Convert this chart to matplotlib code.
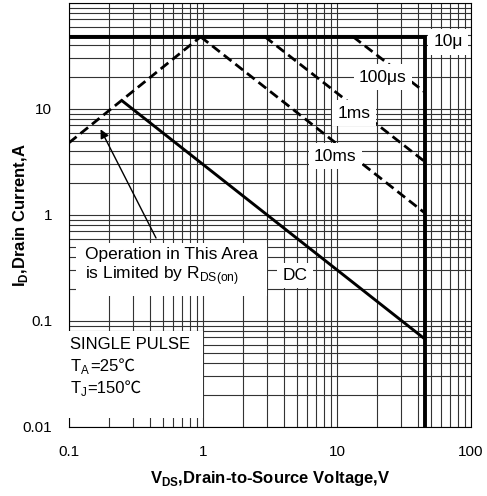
import numpy as np
import matplotlib
matplotlib.use("Agg")
import matplotlib.pyplot as plt
import matplotlib.transforms as mtransforms
from matplotlib.patches import Rectangle

plt.rcParams['font.family'] = ['Liberation Sans', 'Noto Sans CJK SC', 'DejaVu Sans']
plt.rcParams['mathtext.fontset'] = 'custom'
plt.rcParams['mathtext.rm'] = 'Liberation Sans'
plt.rcParams['mathtext.bf'] = 'Liberation Sans:bold'

# ---- data (V, A) ----
rds_v = [0.1, 0.96]
rds_i = [4.8, 48]
dc_v = [0.244, 45]
dc_i = [12.2, 0.068]
ms10_v = [0.96, 45]
ms10_i = [48, 1.05]
ms1_v = [2.9, 45]
ms1_i = [48, 3.2]
us100_v = [13.2, 45]
us100_i = [48, 14.5]
us10_v = [0.1, 45, 45]
us10_i = [48, 48, 0.01]

x_ticks = [0.1, 1, 10, 100]
x_labels = ['0.1', '1', '10', '100']
y_ticks = [0.01, 0.1, 1, 10, 100]
y_labels = ['0.01', '0.1', '1', '10', '']

# label text and where it sits (data coords)
curve_labels = ['10\u03bc', '100\u03bcs', '1ms', '10ms', 'DC']
curve_label_x = [67.3, 22.0, 13.4, 9.67, 4.86]
curve_label_y = [42.9, 20.0, 9.16, 3.6, 0.27]

# test conditions: (symbol, subscript, rest)
cond_sub = ['A', 'J']
cond_rest = ['=25\u2103', '=150\u2103']
cond_y = [0.0376, 0.0233]

fig = plt.figure(figsize=(4.87, 4.96), dpi=100)
ax = fig.add_axes([69 / 487, 69 / 496, 402 / 487, 424 / 496])
ax.set_xscale('log')
ax.set_yscale('log')
ax.set_xlim(0.1, 100)
ax.set_ylim(0.01, 100)

ax.grid(True, which='both', color='#333333', lw=0.8)
ax.set_xticks(x_ticks)
ax.set_xticklabels(x_labels)
ax.set_yticks(y_ticks)
ax.set_yticklabels(y_labels)
ax.tick_params(which='both', length=0, labelsize=11)
ax.tick_params(axis='x', pad=13)
ax.tick_params(axis='y', pad=12)
for s in ax.spines.values():
    s.set_linewidth(0.8)

dash = (0, (3.5, 1.8))
ax.plot(rds_v, rds_i, color='black', lw=2, ls=dash)
ax.plot(ms10_v, ms10_i, color='black', lw=2, ls=dash)
ax.plot(ms1_v, ms1_i, color='black', lw=2, ls=dash)
ax.plot(us100_v, us100_i, color='black', lw=2, ls=dash)
ax.plot(dc_v, dc_i, color='black', lw=2.1, solid_capstyle='butt')
ax.plot(us10_v, us10_i, color='black', lw=2.8, solid_joinstyle='miter')

box = dict(boxstyle='square,pad=0.3', fc='white', ec='none')
for txt, x, y in zip(curve_labels, curve_label_x, curve_label_y):
    ax.text(x, y, txt, ha='center', va='center', fontsize=12.5, bbox=box, zorder=3)

ax.text(0.1316, 0.323, 'Operation in This Area\nis Limited by R$_\\mathregular{DS(on)}$',
        ha='left', va='center', fontsize=12.5, linespacing=1.2,
        bbox=dict(boxstyle='square,pad=0.5', fc='white', ec='none'), zorder=3)
ax.annotate('', xy=(0.172, 6.44), xytext=(0.446, 0.607),
            arrowprops=dict(arrowstyle='-|>', color='black', lw=1,
                            mutation_scale=13, shrinkA=0, shrinkB=0), zorder=3)

# white patch behind the test conditions
trans = mtransforms.blended_transform_factory(ax.transAxes, ax.transData)
ax.add_patch(Rectangle((-0.005, 0.0122), 1 / 3 + 0.005, 0.08 - 0.0122,
                       transform=trans, fc='white', ec='none',
                       clip_on=False, zorder=2.6))
ax.text(0.1017, 0.0594, 'SINGLE PULSE', ha='left', va='center', fontsize=12, zorder=3)

sym_texts = []
for sub, y in zip(cond_sub, cond_y):
    t = ax.text(0.1017, y, 'T$_\\mathregular{%s}$' % sub, ha='left', va='center',
                fontsize=12, zorder=3)
    sym_texts.append(t)
fig.canvas.draw()
for t, rest, y in zip(sym_texts, cond_rest, cond_y):
    bb = t.get_window_extent()
    disp_y = ax.transData.transform((1, y))[1]
    x2 = ax.transData.inverted().transform((bb.x1, disp_y))[0]
    ax.text(x2, y, rest, ha='left', va='center', fontsize=12, zorder=3)

ax.set_xlabel('V$_\\mathregular{DS}$,Drain-to-Source Voltage,V', fontsize=12, fontweight='bold')
ax.set_ylabel('I$_\\mathregular{D}$,Drain Current,A', fontsize=12, fontweight='bold')
ax.xaxis.set_label_coords(0.5, -0.1)
ax.yaxis.set_label_coords(-0.097, 0.5)

fig.savefig('out.png', dpi=100)
